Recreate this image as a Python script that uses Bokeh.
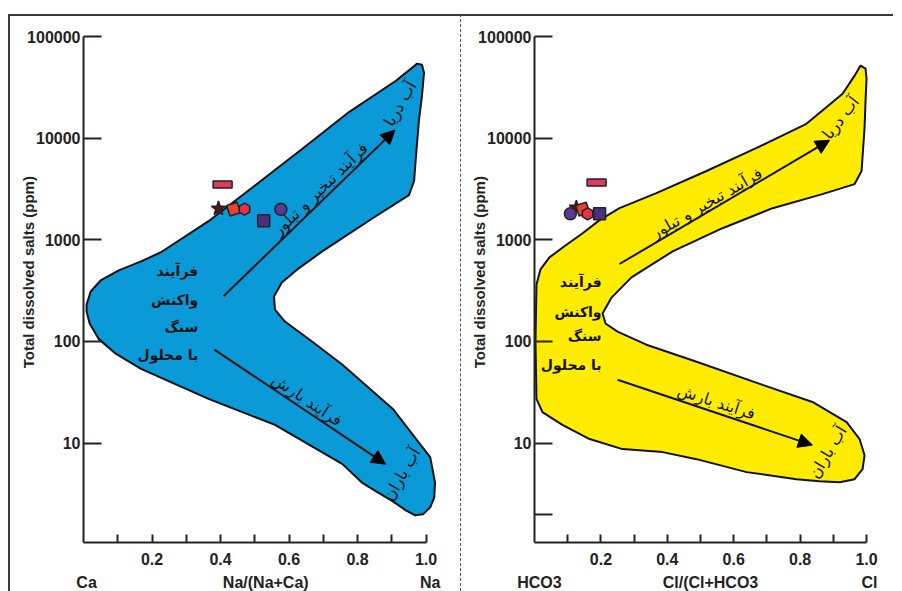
from bokeh.plotting import figure
from bokeh.models import (Range1d, FixedTicker, PrintfTickFormatter, Arrow, NormalHead,
                          LinearAxis, LogAxis)
from bokeh.layouts import row
from bokeh.embed import file_html
from bokeh.resources import INLINE
from bokeh.core.properties import value

# ---------------- data ----------------
tds_ticks = [10, 100, 1000, 10000, 100000]
tds_ticks_right = [2, 10, 100, 1000, 10000, 100000]
ratio_major_ticks = [0.2, 0.4, 0.6, 0.8, 1.0]
ratio_minor_ticks = [0.1, 0.3, 0.5, 0.7, 0.9]
left_end_labels = ["Ca", "Na/(Na+Ca)", "Na"]
right_end_labels = ["HCO3", "Cl/(Cl+HCO3", "Cl"]
y_title = "Total dissolved salts (ppm)"

sample_markers = ["rect", "star", "parallelogram", "pentagon", "circle", "square"]
na_ratio = [0.406, 0.394, 0.438, 0.470, 0.576, 0.526]
na_tds = [3500, 2030, 2000, 2000, 2000, 1540]
cl_ratio = [0.187, 0.126, 0.145, 0.160, 0.108, 0.196]
cl_tds = [3660, 2070, 2000, 1800, 1800, 1800]

na_field_x = [0.009, 0.021, 0.050, 0.103, 0.168, 0.226, 0.365, 0.491, 0.638, 0.776,
              0.912, 0.956, 0.974, 0.988, 0.994, 0.988, 0.979, 0.971, 0.965, 0.950,
              0.844, 0.697, 0.624, 0.579, 0.556, 0.559, 0.588, 0.668, 0.756, 0.903,
              0.971, 1.012, 1.026, 1.024, 1.012, 0.991, 0.968, 0.941, 0.903, 0.859,
              0.815, 0.756, 0.559, 0.365, 0.168, 0.094, 0.044, 0.018, 0.009]
na_field_tds = [231, 310, 398, 500, 614, 754, 1524, 3228, 7834, 18150,
                36700, 48300, 54100, 52800, 44000, 26100, 14800, 6980, 3790, 2750,
                1630, 769, 511, 380, 277, 206, 157, 99.4, 58.9, 21.7,
                10.96, 7.28, 4.12, 2.93, 2.33, 1.99, 1.95, 2.18, 2.67, 3.28,
                4.03, 6.21, 15.1, 27.2, 53.8, 75.7, 106, 150, 197]

cl_field_x = [0.006, 0.003, 0.006, 0.018, 0.045, 0.090, 0.145, 0.196, 0.256, 0.367,
              0.518, 0.669, 0.819, 0.928, 0.964, 0.982, 0.997, 1.000, 0.997, 0.994,
              0.985, 0.964, 0.867, 0.717, 0.566, 0.416, 0.292, 0.232, 0.205, 0.214,
              0.250, 0.337, 0.488, 0.687, 0.837, 0.940, 0.979, 0.994, 0.988, 0.964,
              0.919, 0.858, 0.789, 0.639, 0.488, 0.386, 0.265, 0.166, 0.084, 0.024]
cl_field_tds = [27.2, 99.4, 363, 511, 671, 863, 1159, 1560, 2047, 2877,
                4753, 8017, 13840, 27350, 41200, 51800, 48300, 38500, 23300, 12600,
                4753, 3532, 2812, 2047, 1300, 769, 427, 270, 188, 150,
                125, 92.9, 63.1, 37.4, 25.4, 16.1, 10.96, 7.6, 5.53, 4.41,
                4.12, 4.22, 4.41, 5.18, 6.95, 8.15, 8.73, 10.96, 15.1, 20.2]

# arrows: evaporation (up) and precipitation (down)
na_arrow_x0 = [0.409, 0.382]
na_arrow_y0 = [279, 83]
na_arrow_x1 = [0.909, 0.882]
na_arrow_y1 = [12000, 6.2]
cl_arrow_x0 = [0.256, 0.250]
cl_arrow_y0 = [578, 42]
cl_arrow_x1 = [0.889, 0.837]
cl_arrow_y1 = [9550, 9.55]

process_block = ["فرآیند", "واکنش", "سنگ", "با محلول"]
evap_label = "فرآیند تبخیر و تبلور"
rain_label = "فرآیند بارش"
sea_label = "آب دریا"
rainwater_label = "آب باران"

# ---------------- styles ----------------
NUM_FONT = "Liberation Sans"
FA_FONT = "DejaVu Sans"
Y_START, Y_END = 1.052, 100000
INK = "#222222"

marker_style = {
    "rect": dict(fill="#e13a5f"),
    "star": dict(fill="#5c1515", size=15),
    "parallelogram": dict(fill="#e8432c", size=11),
    "pentagon": dict(fill="#e8304a", size=12),
    "circle": dict(fill="#5a3a94", size=12),
    "square": dict(fill="#47307f", size=12),
}


def style_text_axis(ax, size="16px"):
    ax.axis_line_color = None
    ax.major_tick_line_color = None
    ax.minor_tick_line_color = None
    ax.major_label_text_font = NUM_FONT
    ax.major_label_text_font_style = "bold"
    ax.major_label_text_font_size = size
    ax.major_label_text_color = INK


def make_panel(x_end, frame_w, mb_left, mb_right, field_x, field_tds, fill,
               xs, ys, ax0, ay0, ax1, ay1, end_labels, end_label_x, yticks,
               texts, block_x, block_y, styles):
    p = figure(frame_width=frame_w, frame_height=504, y_axis_type="log",
               x_range=Range1d(0, x_end), y_range=Range1d(Y_START, Y_END),
               output_backend="svg", toolbar_location=None,
               min_border_left=mb_left, min_border_right=mb_right,
               min_border_top=20, min_border_bottom=40)
    p.styles = styles
    p.grid.visible = False
    p.outline_line_color = None
    p.background_fill_color = "white"
    p.border_fill_color = "white"

    # axes
    xa = p.xaxis[0]
    xa.ticker = FixedTicker(ticks=ratio_major_ticks, minor_ticks=ratio_minor_ticks)
    xa.formatter = PrintfTickFormatter(format="%.1f")
    xa.bounds = (0, 1.0)
    xa.axis_line_width = 2
    xa.axis_line_color = INK
    xa.major_tick_in = 8
    xa.major_tick_out = 0
    xa.minor_tick_in = 8
    xa.minor_tick_out = 0
    xa.major_tick_line_width = 2
    xa.minor_tick_line_width = 2
    xa.major_tick_line_color = INK
    xa.minor_tick_line_color = INK
    xa.major_label_standoff = 10
    xa.major_label_text_font = NUM_FONT
    xa.major_label_text_font_style = "bold"
    xa.major_label_text_font_size = "16px"
    xa.major_label_text_color = INK

    ya = p.yaxis[0]
    ya.ticker = FixedTicker(ticks=yticks, minor_ticks=[])
    ya.formatter = PrintfTickFormatter(format="%d")
    ya.major_label_overrides = {2: ""}
    ya.axis_line_width = 2
    ya.axis_line_color = INK
    ya.major_tick_in = 18
    ya.major_tick_out = 0
    ya.major_tick_line_width = 2
    ya.major_tick_line_color = INK
    ya.major_label_standoff = 3
    ya.major_label_text_font = NUM_FONT
    ya.major_label_text_font_style = "bold"
    ya.major_label_text_font_size = "16px"
    ya.major_label_text_color = INK

    # end-member labels as a second, tick-less bottom axis
    end_axis = LinearAxis(ticker=FixedTicker(ticks=end_label_x, minor_ticks=[]),
                          major_label_overrides=dict(zip(end_label_x, end_labels)),
                          major_label_standoff=0)
    style_text_axis(end_axis)
    p.add_layout(end_axis, "below")

    # y title as a second, tick-less left axis
    title_axis = LogAxis(ticker=FixedTicker(ticks=[480], minor_ticks=[]),
                         major_label_overrides={480: y_title},
                         major_label_orientation="vertical",
                         major_label_standoff=-19)
    style_text_axis(title_axis, "15px")
    p.add_layout(title_axis, "left")

    # field
    p.patch(field_x, field_tds, fill_color=fill, line_color="#111111", line_width=2)

    # arrows
    for i in range(len(ax0)):
        p.add_layout(Arrow(end=NormalHead(size=14, fill_color="black", line_color="black"),
                           x_start=ax0[i], y_start=ay0[i], x_end=ax1[i], y_end=ay1[i],
                           line_width=2, line_color="#111111"))

    # rotated labels
    for (tx, ty, txt, ang) in texts:
        p.text(x=[tx], y=[ty], text=[txt], angle=ang, angle_units="deg",
               text_font=value(FA_FONT), text_font_size="16px",
               text_align="center", text_baseline="middle", text_color="#111111")

    # process block
    p.text(x=[block_x] * len(process_block), y=block_y, text=process_block,
           text_font=value(FA_FONT), text_font_size="14px", text_font_style="bold",
           text_align="right", text_baseline="middle", text_color="#111111")

    # samples
    for m, x, y in zip(sample_markers, xs, ys):
        st = marker_style[m]
        if m == "rect":
            p.rect(x=[x], y=[y], width=19, height=7, width_units="screen",
                   height_units="screen", fill_color=st["fill"], line_color=INK,
                   line_width=1.5)
        elif m == "parallelogram":
            p.scatter(x=[x], y=[y], marker="square", size=st["size"], angle=0.3,
                      fill_color=st["fill"], line_color=INK, line_width=1.5)
        elif m == "pentagon":
            p.scatter(x=[x], y=[y], marker="hex", size=st["size"], angle=0.52,
                      fill_color=st["fill"], line_color=INK, line_width=1.5)
        else:
            p.scatter(x=[x], y=[y], marker=m, size=st["size"],
                      fill_color=st["fill"], line_color=INK, line_width=1.5)
    return p


left_texts = [
    (0.691, 3155, evap_label, 44),
    (0.653, 26.6, rain_label, -34),
    (0.924, 21800, sea_label, 60),
    (0.929, 4.94, rainwater_label, 60),
]
right_texts = [
    (0.518, 2290, evap_label, 30),
    (0.548, 25.4, rain_label, -18),
    (0.922, 15850, sea_label, 52),
    (0.883, 8.15, rainwater_label, 59),
]

border = "2px solid #3a3a3a"
p1 = make_panel(1.045, 355, 73, 22, na_field_x, na_field_tds, "#0a9ad8",
                na_ratio, na_tds, na_arrow_x0, na_arrow_y0, na_arrow_x1, na_arrow_y1,
                left_end_labels, [0.009, 0.532, 1.012], tds_ticks, left_texts,
                0.335, [488, 253, 140, 74],
                {"border-left": border, "border-top": border,
                 "border-right": "1px dashed #555555"})
p2 = make_panel(1.03, 342, 73, 17, cl_field_x, cl_field_tds, "#ffec00",
                cl_ratio, cl_tds, cl_arrow_x0, cl_arrow_y0, cl_arrow_x1, cl_arrow_y1,
                right_end_labels, [0.015, 0.530, 1.009], tds_ticks_right, right_texts,
                0.202, [385, 197, 112, 59],
                {"border-top": border})

layout = row(p1, p2, margin=(14, 0, 0, 8))
open("out.html", "w").write(file_html(layout, INLINE))
